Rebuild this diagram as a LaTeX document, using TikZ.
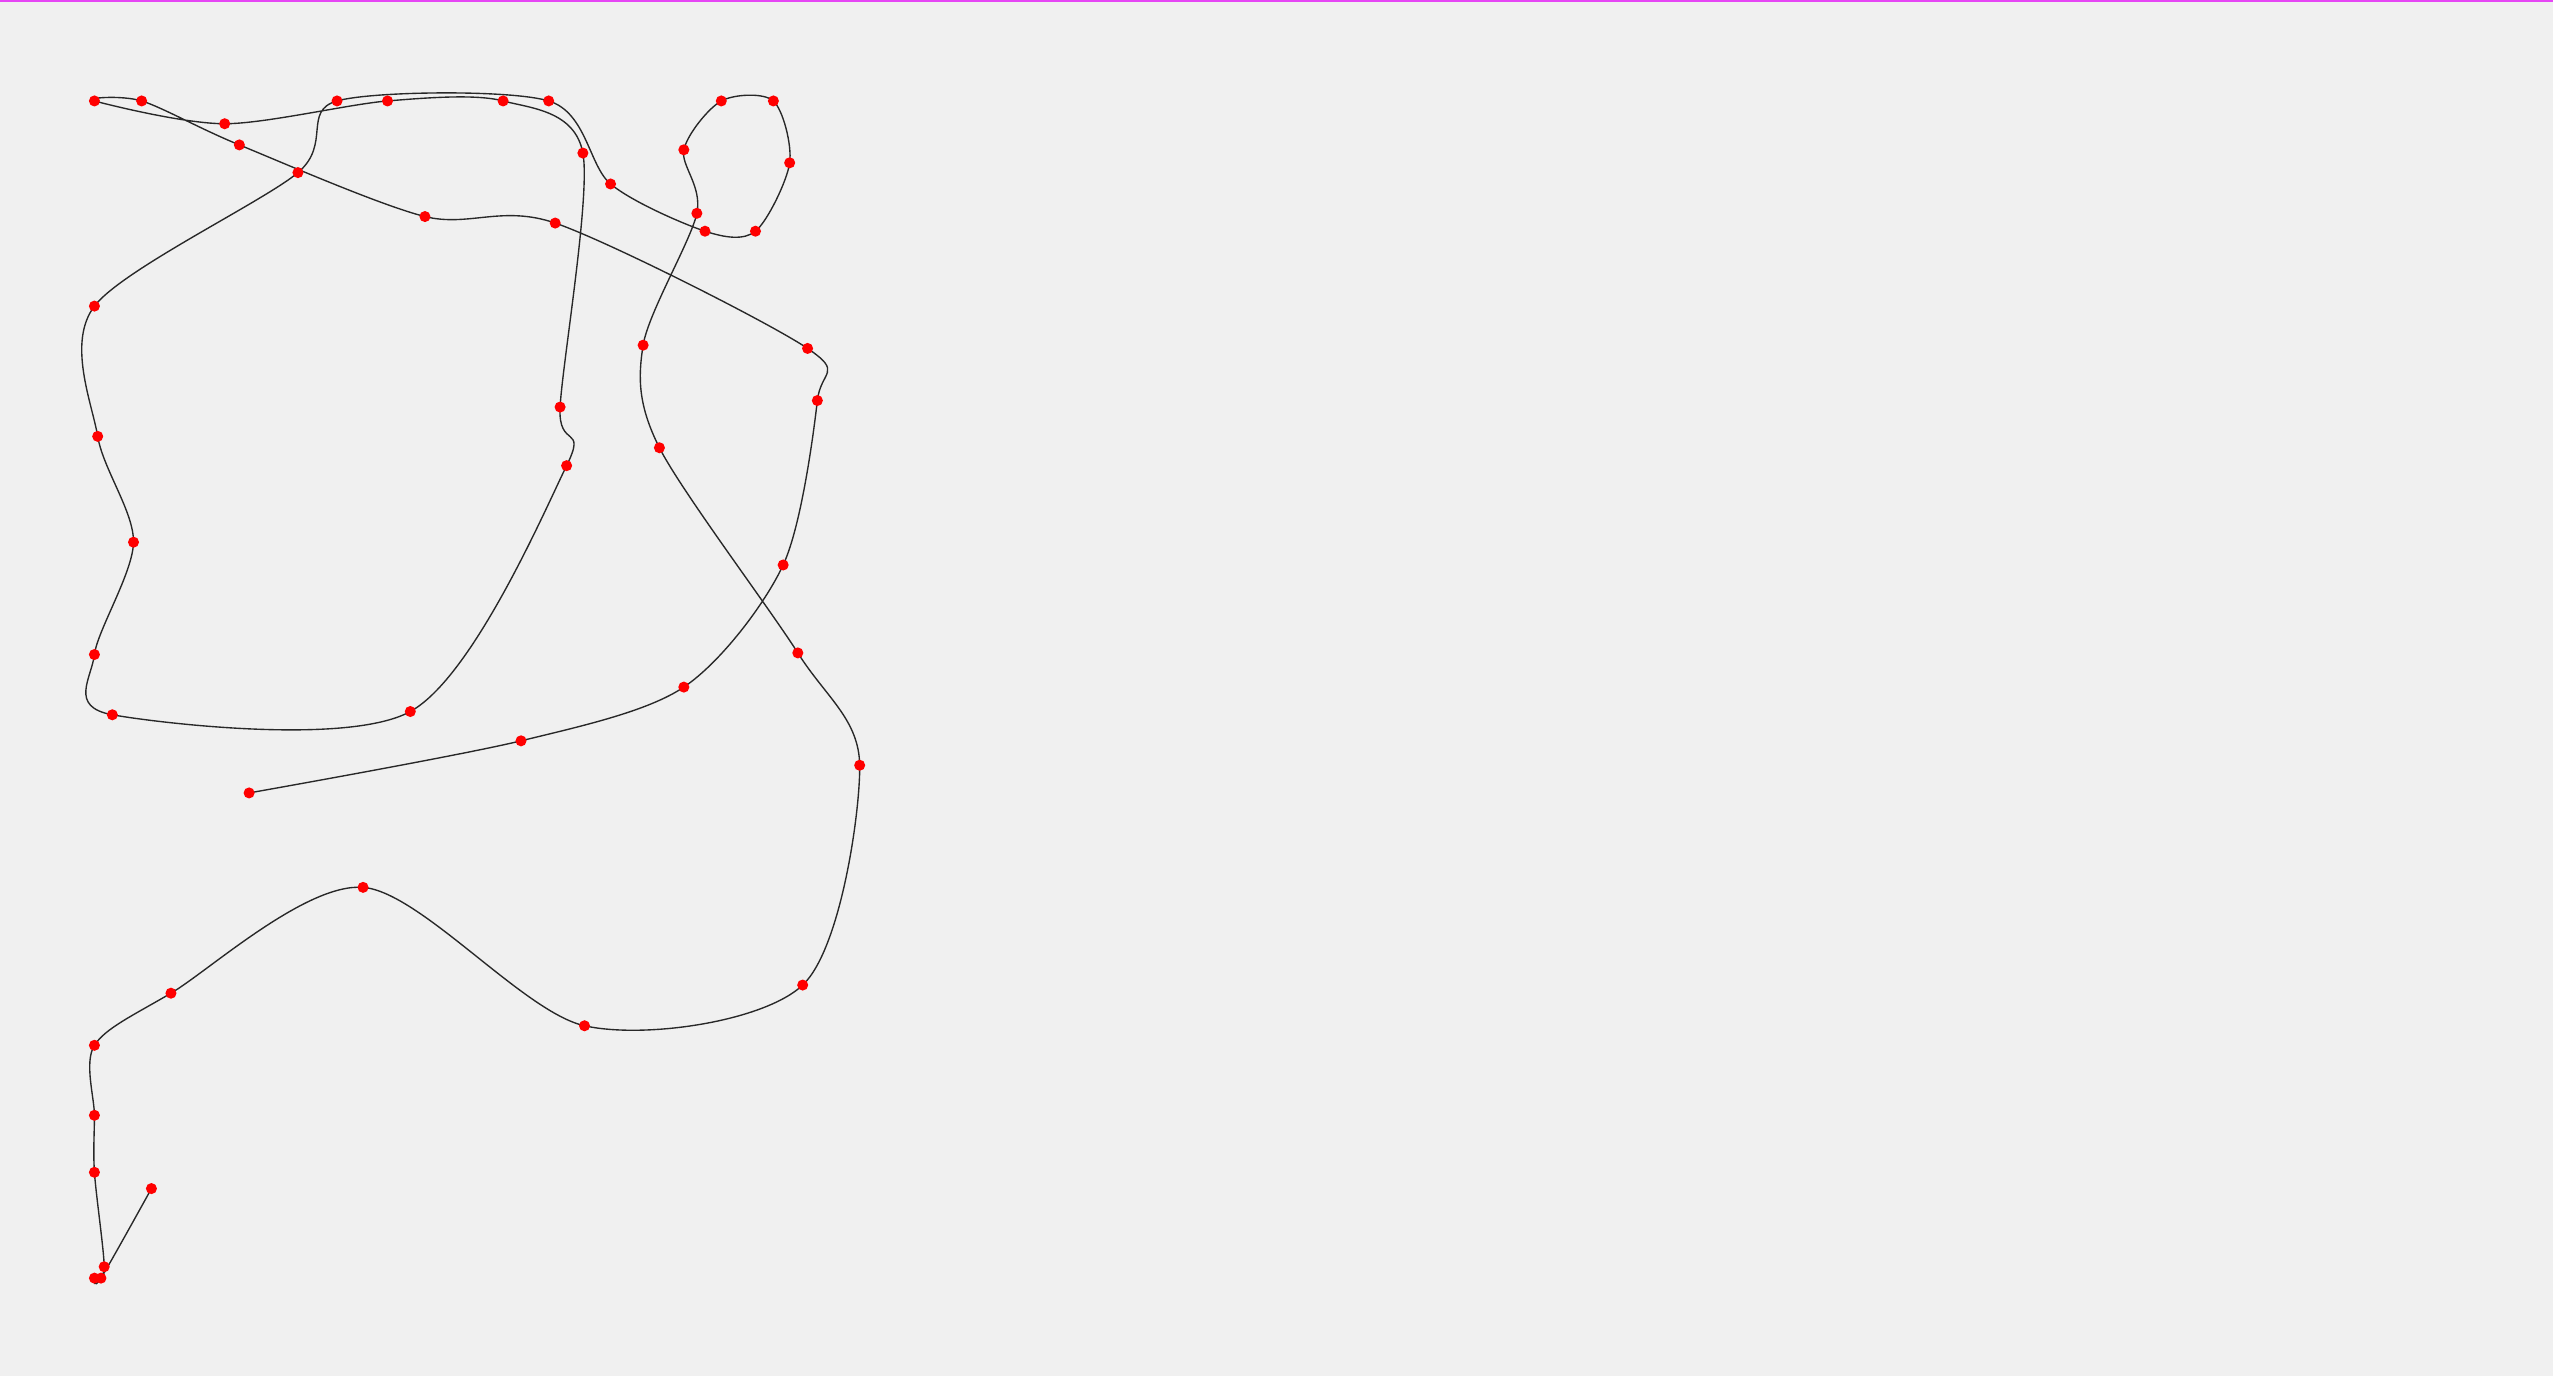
\documentclass[tikz,border=0pt]{standalone}
\usepackage{tikz}
\definecolor{bggray}{RGB}{240,240,240}
\definecolor{topline}{RGB}{230,70,245}
\definecolor{inkgray}{RGB}{40,40,40}
\tikzset{
dot/.style = {circle, fill=red, inner sep=0pt, minimum size=0.68mm},
stroke/.style = {draw=inkgray, line width=0.24pt}
}
\begin{document}
\begin{tikzpicture}[x=0.1mm, y=-0.1mm]
  \fill[bggray] (0,0) rectangle (1568,845);
  \useasboundingbox (0,0) rectangle (1568,845);
  \fill[topline] (0,0) rectangle (1568,1.2);
  % points along the stroke, in drawing order
  \coordinate (p1) at (153,487);
  \coordinate (p2) at (320,455);
  \coordinate (p3) at (420,422);
  \coordinate (p4) at (481,347);
  \coordinate (p5) at (502,246);
  \coordinate (p6) at (496,214);
  \coordinate (p7) at (341,137);
  \coordinate (p8) at (261,133);
  \coordinate (p9) at (147,89);
  \coordinate (p10) at (87,62);
  \coordinate (p11) at (58,62);
  \coordinate (p12) at (138,76);
  \coordinate (p13) at (238,62);
  \coordinate (p14) at (309,62);
  \coordinate (p15) at (358,94);
  \coordinate (p16) at (344,250);
  \coordinate (p17) at (348,286);
  \coordinate (p18) at (252,437);
  \coordinate (p19) at (69,439);
  \coordinate (p20) at (58,402);
  \coordinate (p21) at (82,333);
  \coordinate (p22) at (60,268);
  \coordinate (p23) at (58,188);
  \coordinate (p24) at (183,106);
  \coordinate (p25) at (207,62);
  \coordinate (p26) at (337,62);
  \coordinate (p27) at (375,113);
  \coordinate (p28) at (433,142);
  \coordinate (p29) at (464,142);
  \coordinate (p30) at (485,100);
  \coordinate (p31) at (475,62);
  \coordinate (p32) at (443,62);
  \coordinate (p33) at (420,92);
  \coordinate (p34) at (428,131);
  \coordinate (p35) at (395,212);
  \coordinate (p36) at (405,275);
  \coordinate (p37) at (490,401);
  \coordinate (p38) at (528,470);
  \coordinate (p39) at (493,605);
  \coordinate (p40) at (359,630);
  \coordinate (p41) at (223,545);
  \coordinate (p42) at (105,610);
  \coordinate (p43) at (58,642);
  \coordinate (p44) at (58,685);
  \coordinate (p45) at (58,720);
  \coordinate (p46) at (64,778);
  \coordinate (p47) at (58,785);
  \coordinate (p48) at (62,785);
  \coordinate (p49) at (93,730);
  \draw[stroke] plot[smooth, tension=0.5] coordinates {
    (p1) (p2) (p3) (p4) (p5) (p6) (p7) (p8) (p9) (p10)
    (p11) (p12) (p13) (p14) (p15) (p16) (p17) (p18) (p19) (p20)
    (p21) (p22) (p23) (p24) (p25) (p26) (p27) (p28) (p29) (p30)
    (p31) (p32) (p33) (p34) (p35) (p36) (p37) (p38) (p39) (p40)
    (p41) (p42) (p43) (p44) (p45) (p46) (p47) (p48) (p49)};
  \foreach \i in {1,...,49}
    \node[dot] (d\i) at (p\i) {};
\end{tikzpicture}
\end{document}
